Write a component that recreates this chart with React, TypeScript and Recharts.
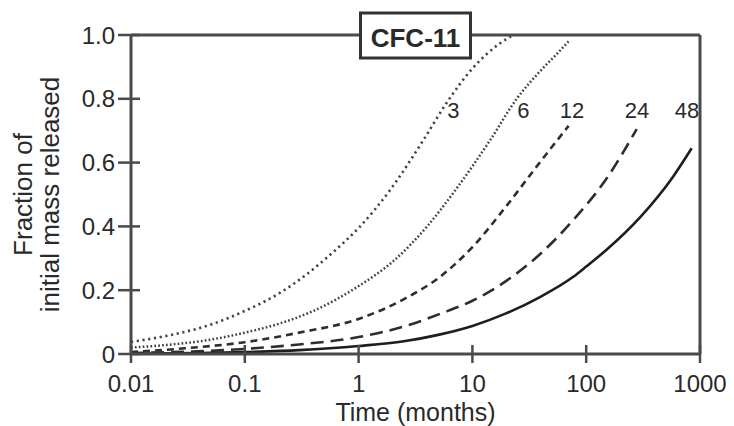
import React from 'react';
import { LineChart, Line, XAxis, YAxis, ReferenceLine, ReferenceDot } from 'recharts';

// Time (months) and fraction of initial mass released, per curve
const T3 = [0.01, 0.02, 0.05, 0.1, 0.2, 0.35, 0.6, 1, 1.9, 3.7, 5.9, 10, 17.5, 23];
const F3 = [0.038, 0.056, 0.092, 0.135, 0.19, 0.25, 0.32, 0.395, 0.515, 0.67, 0.786, 0.895, 0.974, 1.0];

const T6 = [0.01, 0.02, 0.05, 0.1, 0.2, 0.4, 1, 2, 4, 7.3, 14.3, 24.5, 39, 55, 70];
const F6 = [0.02, 0.028, 0.045, 0.067, 0.095, 0.135, 0.213, 0.29, 0.4, 0.52, 0.67, 0.8, 0.885, 0.94, 0.98];

const T12 = [0.01, 0.03, 0.1, 0.3, 1, 2.6, 5.2, 10, 20, 39, 70];
const F12 = [0.006, 0.018, 0.037, 0.067, 0.11, 0.175, 0.242, 0.335, 0.465, 0.6, 0.715];

const T24 = [0.01, 0.1, 0.3, 1, 3, 5.2, 10, 20, 39, 77, 151, 278];
const F24 = [0.003, 0.016, 0.03, 0.053, 0.095, 0.126, 0.167, 0.23, 0.312, 0.42, 0.55, 0.705];

const T48 = [0.01, 0.1, 0.3, 1, 2.5, 5, 10, 20, 40, 77, 100, 150, 300, 580, 845];
const F48 = [0.001, 0.006, 0.012, 0.025, 0.04, 0.06, 0.088, 0.128, 0.18, 0.242, 0.274, 0.326, 0.43, 0.556, 0.645];

const X_TICKS = [0.01, 0.1, 1, 10, 100, 1000];
const X_TICK_LABELS = ['0.01', '0.1', '1', '10', '100', '1000'];
const Y_TICKS = [0, 0.2, 0.4, 0.6, 0.8, 1.0];
const Y_TICK_LABELS = ['0', '0.2', '0.4', '0.6', '0.8', '1.0'];

const CURVE_LABELS = ['3', '6', '12', '24', '48'];
const CURVE_LABEL_T = [6.8, 28, 75, 279, 769];
const CURVE_LABEL_F = [0.765, 0.765, 0.765, 0.765, 0.765];

const TITLE = 'CFC-11';

const build = (ts: number[], fs: number[]) => ts.map((t, i) => ({ t, f: fs[i] }));

const FONT = '"Liberation Sans", Arial, Helvetica, sans-serif';
const TXT = '#2a2a2a';
const AX = '#4a4a4a';

const YTick = (props: any) => {
  const { x, y, payload } = props;
  const idx = Y_TICKS.indexOf(payload.value);
  return (
    <g>
      <line x1={x - 13} x2={x + 9} y1={y} y2={y} stroke={AX} strokeWidth={2.5} />
      <text x={x - 16} y={y} dy="0.36em" textAnchor="end" fontSize={24} fill={TXT} fontFamily={FONT}>
        {idx >= 0 ? Y_TICK_LABELS[idx] : payload.value}
      </text>
    </g>
  );
};

const XTick = (props: any) => {
  const { x, y, payload } = props;
  const idx = X_TICKS.indexOf(payload.value);
  return (
    <g>
      <line x1={x} x2={x} y1={y - 9} y2={y + 9} stroke={AX} strokeWidth={2.5} />
      <text x={x} y={y + 38} textAnchor="middle" fontSize={24} fill={TXT} fontFamily={FONT}>
        {idx >= 0 ? X_TICK_LABELS[idx] : payload.value}
      </text>
    </g>
  );
};

const TitleBox = (props: any) => {
  const vb = props.viewBox || {};
  const cx = vb.x + vb.width / 2;
  const cy = vb.y;
  return (
    <g>
      <rect x={cx - 55} y={cy - 22} width={110} height={45} fill="#fff" stroke="#333" strokeWidth={3} />
      <text x={cx} y={cy + 12} textAnchor="middle" fontSize={26} fontWeight="bold" fill={TXT} fontFamily={FONT}>
        {TITLE}
      </text>
    </g>
  );
};

const YLabel = (props: any) => {
  const vb = props.viewBox || {};
  const cy = vb.y + vb.height / 2;
  return (
    <g fontFamily={FONT} fontSize={26} fill={TXT}>
      <text x={32} y={cy} textAnchor="middle" transform={`rotate(-90, 32, ${cy})`}>Fraction of</text>
      <text x={59} y={cy} textAnchor="middle" transform={`rotate(-90, 59, ${cy})`}>initial mass released</text>
    </g>
  );
};

const XLabel = (props: any) => {
  const vb = props.viewBox || {};
  const cx = vb.x + vb.width / 2;
  return (
    <text x={cx} y={421} textAnchor="middle" fontSize={25} fill={TXT} fontFamily={FONT}>Time (months)</text>
  );
};

const curves = [
  { key: 'c3', data: build(T3, F3), dash: '2.2 3.6', width: 2.6, color: '#444' },
  { key: 'c6', data: build(T6, F6), dash: '1.7 2.2', width: 2.5, color: '#404040' },
  { key: 'c12', data: build(T12, F12), dash: '7 5', width: 2.6, color: '#2e2e2e' },
  { key: 'c24', data: build(T24, F24), dash: '13 7', width: 2.6, color: '#2e2e2e' },
  { key: 'c48', data: build(T48, F48), dash: undefined, width: 2.6, color: '#1e1e1e' },
];

export default function App() {
  return (
    <div style={{ position: 'absolute', left: 0, top: 0, width: 734, height: 426, background: '#fff' }}>
      <LineChart width={734} height={426} margin={{ top: 35, right: 34, left: 0, bottom: 0 }}>
        <XAxis
          type="number"
          dataKey="t"
          scale="log"
          domain={[0.01, 1000]}
          ticks={X_TICKS}
          allowDataOverflow
          height={72}
          tickSize={0}
          tickMargin={0}
          tickLine={false}
          axisLine={{ stroke: AX, strokeWidth: 3 }}
          tick={<XTick />}
          interval={0}
          label={<XLabel />}
        />
        <YAxis
          type="number"
          domain={[0, 1]}
          ticks={Y_TICKS}
          allowDataOverflow
          width={131}
          tickSize={0}
          tickMargin={0}
          tickLine={false}
          axisLine={{ stroke: AX, strokeWidth: 3 }}
          tick={<YTick />}
          interval={0}
          label={<YLabel />}
        />
        <ReferenceLine x={1000} stroke={AX} strokeWidth={3} />
        {curves.map((c) => (
          <Line
            key={c.key}
            data={c.data}
            dataKey="f"
            type="monotone"
            stroke={c.color}
            strokeWidth={c.width}
            strokeDasharray={c.dash}
            dot={false}
            activeDot={false}
            isAnimationActive={false}
          />
        ))}
        <ReferenceLine y={1} stroke={AX} strokeWidth={3} label={<TitleBox />} />
        {CURVE_LABELS.map((lab, i) => (
          <ReferenceDot
            key={lab}
            x={CURVE_LABEL_T[i]}
            y={CURVE_LABEL_F[i]}
            r={0}
            shape={(p: any) => (
              <text x={p.cx} y={p.cy} dy="0.36em" textAnchor="middle" fontSize={22} fill={TXT} fontFamily={FONT}>
                {lab}
              </text>
            )}
          />
        ))}
      </LineChart>
    </div>
  );
}
